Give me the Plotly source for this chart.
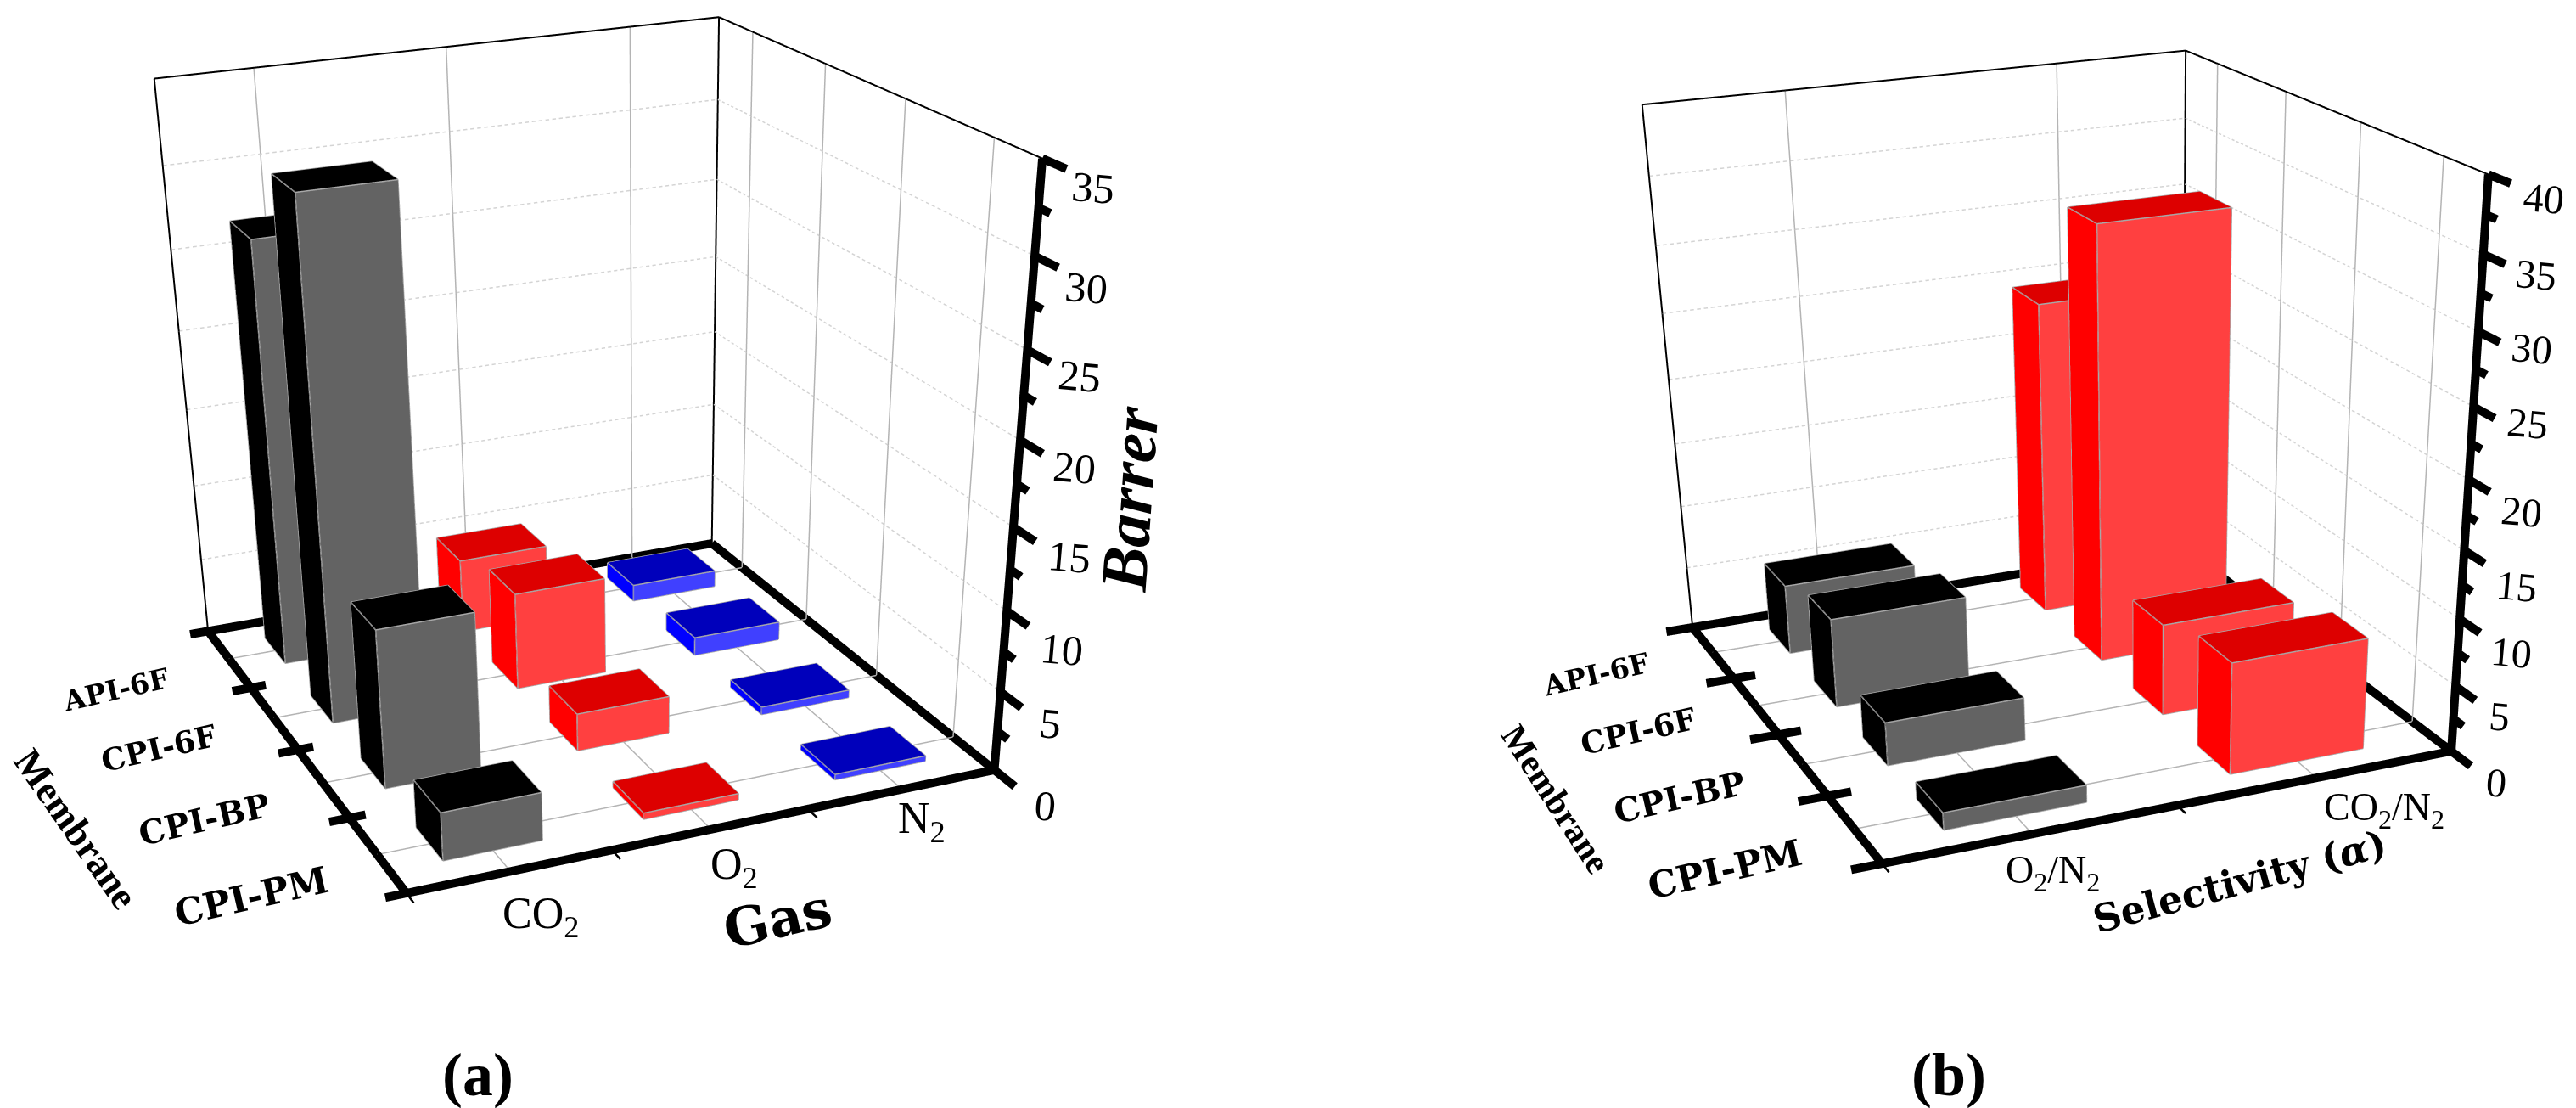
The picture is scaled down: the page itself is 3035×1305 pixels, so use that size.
import plotly.graph_objects as go

MEMBRANES = ["API-6F", "CPI-6F", "CPI-BP", "CPI-PM"]

GASES = ["CO<sub>2</sub>", "O<sub>2</sub>", "N<sub>2</sub>"]
CO2_BARRER = [27, 32, 10, 3]
O2_BARRER = [4.9, 6.3, 2.4, 0.4]
N2_BARRER = [1.1, 1.2, 0.5, 0.35]

PAIRS = ["O<sub>2</sub>/N<sub>2</sub>", "CO<sub>2</sub>/N<sub>2</sub>"]
O2_N2_SELECTIVITY = [5.5, 6.9, 3.3, 1.3]
CO2_N2_SELECTIVITY = [24.5, 33, 7, 8.4]

BARRER_TICKS = [0, 5, 10, 15, 20, 25, 30, 35]
SELECTIVITY_TICKS = [0, 5, 10, 15, 20, 25, 30, 35, 40]

GREY = dict(front="#636363", top="#000000", left="#000000")
RED = dict(front="#ff4040", top="#dd0000", left="#ff0000")
BLUE = dict(front="#4040ff", top="#0000bb", left="#0000ff")

W, H = 3035, 2610  # the scene is taller than the window to get a longer lens
PAD = 0.3
SERIF = "Liberation Serif"
LABEL_SERIF = "DejaVu Serif"


def segments(pairs):
    xs, ys, zs = [], [], []
    for a, b in pairs:
        xs += [a[0], b[0], None]
        ys += [a[1], b[1], None]
        zs += [a[2], b[2], None]
    return xs, ys, zs


def line3d(scene, pairs, color, width):
    xs, ys, zs = segments(pairs)
    return go.Scatter3d(x=xs, y=ys, z=zs, mode="lines", scene=scene, hoverinfo="skip",
                        showlegend=False, line=dict(color=color, width=width))


def dashes(a, b, count):
    """Chop a grid line into short pieces, gl dash patterns come out far too long."""
    out = []
    for n in range(count):
        t0, t1 = n / count, (n + 0.55) / count
        out.append((tuple(p + (q - p) * t0 for p, q in zip(a, b)),
                    tuple(p + (q - p) * t1 for p, q in zip(a, b))))
    return out


def bars(fig, scene, col, heights, colors, bar_w, bar_d):
    xs, ys, zs, i, j, k, face, edges = [], [], [], [], [], [], [], []
    for row, h in enumerate(heights):
        y_mid = len(heights) - row - 0.5
        x0, x1 = col + 0.5 - bar_w / 2, col + 0.5 + bar_w / 2
        y0, y1 = y_mid - bar_d / 2, y_mid + bar_d / 2
        base = len(xs)
        xs += [x0, x1, x1, x0, x0, x1, x1, x0]
        ys += [y0, y0, y1, y1, y0, y0, y1, y1]
        zs += [0, 0, 0, 0, h, h, h, h]
        quads = [((4, 5, 6, 7), "top"), ((0, 1, 5, 4), "front"), ((3, 0, 4, 7), "left"),
                 ((1, 2, 6, 5), "front"), ((2, 3, 7, 6), "front")]
        for (a, b, c, d), name in quads:
            i += [base + a, base + a]
            j += [base + b, base + c]
            k += [base + c, base + d]
            face += [colors[name], colors[name]]
        edges += [((x0, y0, h), (x1, y0, h)), ((x1, y0, h), (x1, y1, h)), ((x1, y1, h), (x0, y1, h)),
                  ((x0, y1, h), (x0, y0, h)), ((x0, y0, 0), (x0, y0, h)), ((x1, y0, 0), (x1, y0, h)),
                  ((x0, y1, 0), (x0, y1, h)), ((x0, y0, 0), (x1, y0, 0)), ((x0, y0, 0), (x0, y1, 0))]
    fig.add_trace(go.Mesh3d(x=xs, y=ys, z=zs, i=i, j=j, k=k, facecolor=face, flatshading=True,
                            scene=scene, hoverinfo="skip", showscale=False,
                            lighting=dict(ambient=1, diffuse=0, specular=0, roughness=1, fresnel=0)))
    fig.add_trace(line3d(scene, edges, "#a8a8a8", 3))


def frame(fig, scene, nx, ny, ticks):
    zmax, step = ticks[-1], ticks[1] - ticks[0]
    grid = [((i + 0.5, 0, 0), (i + 0.5, ny, 0)) for i in range(nx)]
    grid += [((0, j + 0.5, 0), (nx, j + 0.5, 0)) for j in range(ny)]
    grid += [((i + 0.5, ny, 0), (i + 0.5, ny, zmax)) for i in range(nx)]
    grid += [((nx, j + 0.5, 0), (nx, j + 0.5, zmax)) for j in range(ny)]
    fig.add_trace(line3d(scene, grid, "#b4b4b4", 3))

    dashed = []
    for z in ticks[1:-1]:
        dashed += dashes((0, ny, z), (nx, ny, z), 80) + dashes((nx, ny, z), (nx, 0, z), 60)
    fig.add_trace(line3d(scene, dashed, "#d4d4d4", 3))

    thin = [((0, ny, 0), (0, ny, zmax)), ((nx, ny, 0), (nx, ny, zmax)),
            ((0, ny, zmax), (nx, ny, zmax)), ((nx, ny, zmax), (nx, 0, zmax))]
    fig.add_trace(line3d(scene, thin, "#000000", 4))

    thick = [((-0.1, 0, 0), (nx, 0, 0)), ((nx, 0, 0), (nx, ny, 0)), ((nx, ny, 0), (-0.1, ny, 0)),
             ((0, ny, 0), (0, 0, 0)), ((nx, 0, 0), (nx, 0, zmax))]
    # major ticks on the vertical axis, half length ones in between
    for z in ticks:
        thick.append(((nx, 0, z), (nx, -0.24, z)))
    for z in ticks[:-1]:
        thick.append(((nx, 0, z + step / 2), (nx, -0.12, z + step / 2)))
    for j in range(1, ny):
        thick.append(((-0.1, j, 0), (0.08, j, 0)))
    fig.add_trace(line3d(scene, thick, "#000000", 20))

    gas_ticks = [((i, 0, 0), (i, -0.12, 0)) for i in range(nx)]
    fig.add_trace(line3d(scene, gas_ticks, "#000000", 5))


def scene_layout(nx, ny, zmax, domain_x, aspect, eye, center, up):
    hidden = dict(visible=False, showspikes=False)
    return dict(
        domain=dict(x=domain_x, y=[0, 1]),
        bgcolor="white",
        dragmode="orbit",  # turntable mode would reset the up vector
        aspectmode="manual",
        aspectratio=dict(x=aspect[0] * (nx + 2 * PAD) / nx, y=aspect[1] * (ny + 2 * PAD) / ny, z=aspect[2]),
        xaxis=dict(range=[-PAD, nx + PAD], **hidden),
        yaxis=dict(range=[-PAD, ny + PAD], **hidden),
        zaxis=dict(range=[0, zmax], **hidden),
        camera=dict(eye=dict(zip("xyz", eye)), center=dict(zip("xyz", center)), up=dict(zip("xyz", up))),
    )


def note(text, px, py, size, angle=0, family=SERIF, bold=False):
    if bold:
        text = f"<b>{text}</b>"
    return dict(text=text, x=px / W, y=1 - py / H, xref="paper", yref="paper", showarrow=False,
                xanchor="center", yanchor="middle", textangle=angle,
                font=dict(family=family, size=size, color="#000000"))


fig = go.Figure()

frame(fig, "scene", len(GASES), len(MEMBRANES), BARRER_TICKS)
bars(fig, "scene", 0, CO2_BARRER, GREY, 0.49, 0.45)
bars(fig, "scene", 1, O2_BARRER, RED, 0.49, 0.45)
bars(fig, "scene", 2, N2_BARRER, BLUE, 0.49, 0.45)

frame(fig, "scene2", len(PAIRS), len(MEMBRANES), SELECTIVITY_TICKS)
bars(fig, "scene2", 0, O2_N2_SELECTIVITY, GREY, 0.49, 0.47)
bars(fig, "scene2", 1, CO2_N2_SELECTIVITY, RED, 0.49, 0.47)

annotations = []
for text, px, py in zip(BARRER_TICKS, [1223, 1229, 1243, 1252, 1258, 1264, 1272, 1280],
                        [941, 844, 757, 648, 543, 435, 331, 213]):
    annotations.append(note(str(text), px, py, 50, 5))
for text, px, py in zip(SELECTIVITY_TICKS, [2933, 2937, 2951, 2957, 2963, 2970, 2975, 2980, 2989],
                        [914, 835, 760, 683, 594, 490, 402, 315, 226]):
    annotations.append(note(str(text), px, py, 48, 5))
for text, px, py, size in zip(MEMBRANES, [128, 179, 232, 288], [804, 873, 957, 1048], [33, 36, 39, 43]):
    annotations.append(note(text, px, py, size, -13, LABEL_SERIF, True))
for text, px, py, size in zip(MEMBRANES, [1872, 1922, 1970, 2024], [787, 853, 931, 1016], [33, 36, 39, 43]):
    annotations.append(note(text, px, py, size, -13, LABEL_SERIF, True))
for text, px, py in zip(GASES, [629, 857, 1078], [1071, 1013, 959]):
    annotations.append(note(text, px, py, 52))
for text, px, py in zip(PAIRS, [2410, 2801], [1020, 946]):
    annotations.append(note(text, px, py, 46))
annotations += [
    note("Membrane", 81, 968, 46, 55, SERIF, True),
    note("Membrane", 1825, 933, 42, 57, SERIF, True),
    note("Gas", 908, 1074, 62, -13, LABEL_SERIF, True),
    note("<i>Barrer</i>", 1322, 580, 78, -86, SERIF, True),
    note("Selectivity (<i>α</i>)", 2630, 1030, 45, -15, LABEL_SERIF, True),
    note("(a)", 555, 1258, 72, 0, SERIF, True),
    note("(b)", 2288, 1258, 72, 0, SERIF, True),
]

fig.update_layout(
    width=W,
    height=H,
    margin=dict(l=0, r=0, t=0, b=0),
    paper_bgcolor="white",
    showlegend=False,
    hovermode=False,
    annotations=annotations,
    scene=scene_layout(len(GASES), len(MEMBRANES), BARRER_TICKS[-1], [0, 0.42], (0.9714, 1.0427, 0.9236),
                       (-1.536, -3.7731, 1.4006), (-0.3192, -0.6363, -0.8213), (0.011, -0.0286, 1)),
    scene2=scene_layout(len(PAIRS), len(MEMBRANES), SELECTIVITY_TICKS[-1], [0.6, 1], (0.9482, 1.0138, 0.8779),
                        (-1.5424, -3.8642, 1.3167), (-0.2634, -0.6904, -0.8209), (0.0083, -0.024, 1)),
)

fig.write_html("out.html")
